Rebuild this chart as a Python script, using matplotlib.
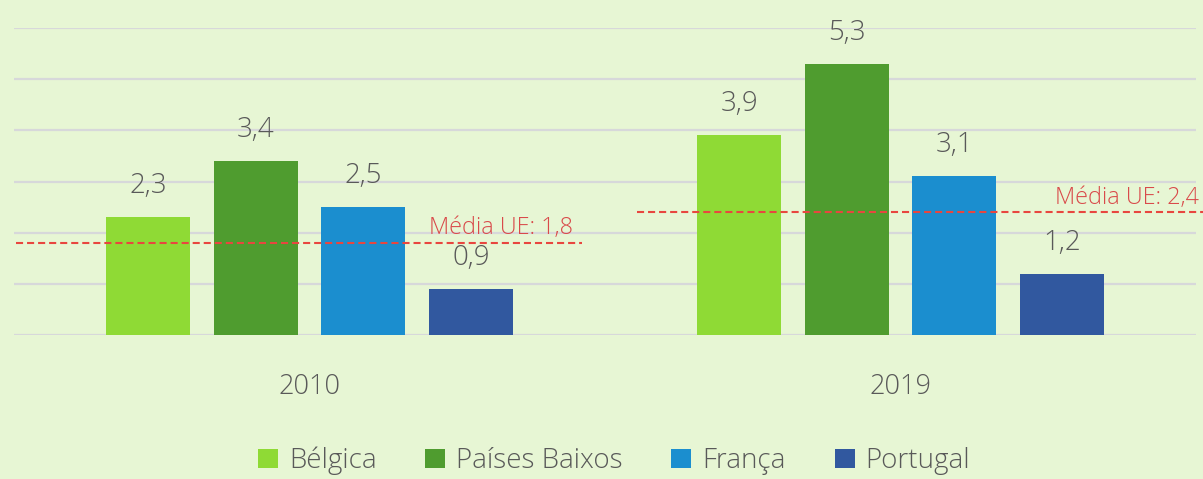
import matplotlib
matplotlib.use("Agg")
import matplotlib.pyplot as plt
import numpy as np
from matplotlib.patches import Patch

years = ["2010", "2019"]
countries = ["Bélgica", "Países Baixos", "França", "Portugal"]
values = {
    "Bélgica": [2.3, 3.9],
    "Países Baixos": [3.4, 5.3],
    "França": [2.5, 3.1],
    "Portugal": [0.9, 1.2],
}
eu_mean = [1.8, 2.4]
eu_labels = ["Média UE: 1,8", "Média UE: 2,4"]

colors = ["#8fda35", "#4f9c2f", "#1b8ecf", "#31589f"]
bg = "#e7f6d4"
text_col = "#595959"
red = "#e8463f"

plt.rcParams['font.family'] = ["Open Sans", "DejaVu Sans"]

fig = plt.figure(figsize=(12.03, 4.79), dpi=100, facecolor=bg)
ax = fig.add_axes([14/1203, 1-335/479, 1182/1203, 307/479])
ax.set_facecolor(bg)

x = np.arange(len(years))
width = 0.142
step = 0.182
offsets = (np.arange(len(countries)) - 1.5) * step
for i, c in enumerate(countries):
    ax.bar(x + offsets[i], values[c], width, color=colors[i], zorder=3, label=c)
    for xi, v in zip(x + offsets[i], values[c]):
        ax.text(xi, v + 0.47, f"{v:.1f}".replace(".", ","), ha="center", va="baseline",
                fontsize=20, color=text_col, zorder=4, fontweight="light", clip_on=False)

ax.set_xlim(-0.5, 1.5)
ax.set_ylim(0, 6)
ax.set_yticks(np.arange(0, 7, 1))
ax.yaxis.grid(True, color="#d7d8da", linewidth=1.6, zorder=0)
ax.set_axisbelow(True)
ax.tick_params(axis="y", left=False, labelleft=False)
ax.tick_params(axis="x", bottom=False, labelsize=19.5, labelcolor=text_col, pad=24)
ax.set_xticks(x)
ax.set_xticklabels(years, fontweight="light")
for s in ax.spines.values():
    s.set_visible(False)

# EU mean lines
dash = (0, (3.4, 1.9))
ax.plot([-0.497, 0.461], [eu_mean[0]] * 2, ls=dash, color=red, lw=1.5, zorder=5)
ax.text(0.446, eu_mean[0] + 0.17, eu_labels[0], ha="right", va="baseline", fontsize=16.8,
        color="#d94a4a", zorder=5, fontweight="light")
ax.plot([0.554, 1.52], [eu_mean[1]] * 2, ls=dash, color=red, lw=1.5, zorder=5,
        clip_on=False)
ax.text(1.505, eu_mean[1] + 0.17, eu_labels[1], ha="right", va="baseline", fontsize=16.8,
        color="#d94a4a", zorder=5, clip_on=False, fontweight="light")

handles = [Patch(facecolor=colors[i], label=c) for i, c in enumerate(countries)]
leg = fig.legend(handles=handles, loc="center", bbox_to_anchor=(614/1203, 1-461/479),
                 ncol=4, frameon=False, handlelength=0.72, handleheight=0.72,
                 handletextpad=0.4, columnspacing=1.75,
                 prop={"size": 20, "weight": "light"})
for t in leg.get_texts():
    t.set_color(text_col)

fig.savefig("out.png", dpi=100, facecolor=bg)
